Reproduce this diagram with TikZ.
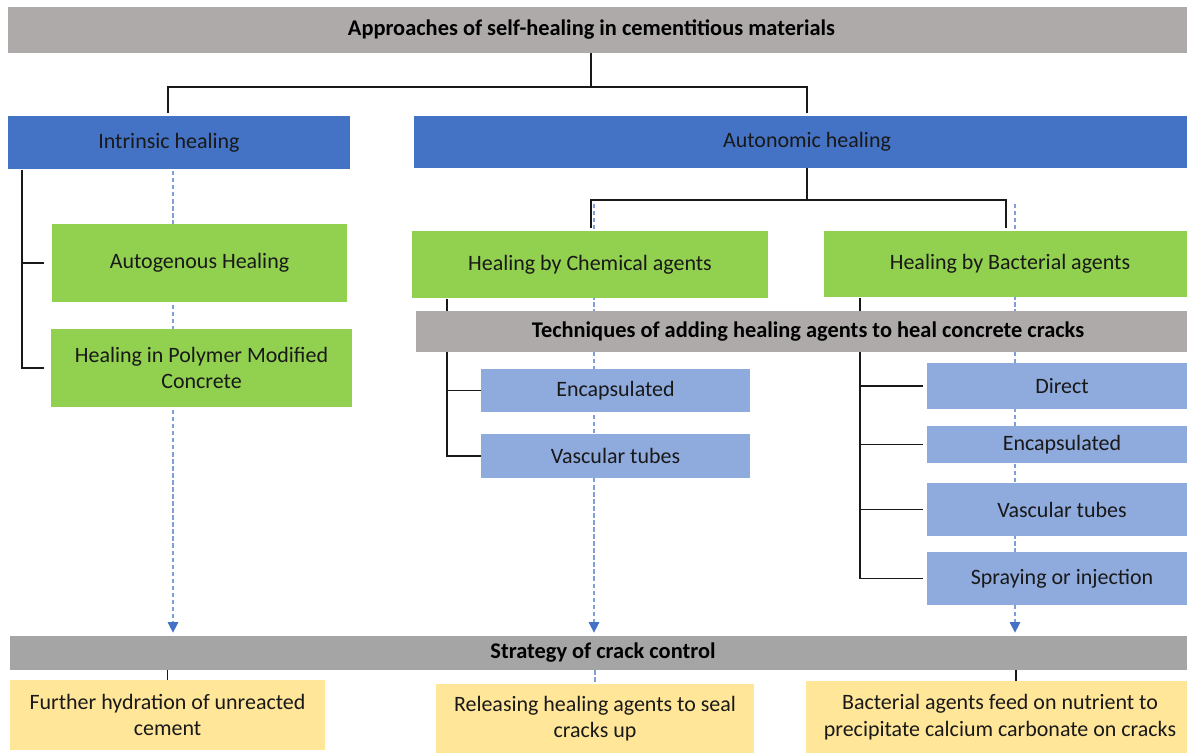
\documentclass[tikz,border=0pt]{standalone}
\usepackage{fontspec}
\setmainfont{Carlito}
\usetikzlibrary{positioning, arrows.meta, backgrounds, calc}

\definecolor{hdrgray}{HTML}{AEAAAA}
\definecolor{stratgray}{HTML}{A5A5A5}
\definecolor{mainblue}{HTML}{4472C4}
\definecolor{subgreen}{HTML}{92D050}
\definecolor{techblue}{HTML}{8FAADC}
\definecolor{resyellow}{HTML}{FFE699}
\definecolor{linkblue}{HTML}{7F9FD8}

\begin{document}
\begin{tikzpicture}[x=0.02cm, y=-0.02cm,
    box/.style={inner sep=2pt, align=center, text=black!90, font=\fontsize{12.5}{15}\selectfont},
    hdr/.style={box, font=\bfseries\fontsize{12.75}{15}\selectfont, text=black},
    conn/.style={draw=black!90, line width=1pt},
    dashlink/.style={draw=linkblue, line width=0.6pt, dash pattern=on 2.5pt off 1.5pt},
    tipblue/.style={-{Triangle[width=6pt, length=6pt, color=mainblue]}, shorten >=0.06cm}
]
\useasboundingbox (0,0) rectangle (1187,753);

% headers
\node[hdr, fill=hdrgray, minimum width=23.58cm, minimum height=0.92cm] (title) at (597.5,30) {Approaches of self-healing in cementitious materials\hspace{0.24cm}};
\node[box, fill=mainblue, minimum width=6.84cm, minimum height=1.06cm] (intr) at (179,142.5) {Intrinsic healing\hspace{0.4cm}};
\node[box, fill=mainblue, minimum width=15.72cm, minimum height=1.04cm] (auton) at (807,142) {Autonomic healing};

% intrinsic branch
\node[box, fill=subgreen, minimum width=5.9cm, minimum height=1.56cm] (autog) at (199.5,263) {Autogenous Healing};
\node[box, fill=subgreen, minimum width=6.02cm, minimum height=1.56cm] (polym) at (201.5,368) {Healing in Polymer Modified\\Concrete};

% autonomic branch
\node[box, fill=subgreen, minimum width=7.12cm, minimum height=1.34cm] (chem) at (590,264.5) {Healing by Chemical agents};
\node[box, fill=subgreen, minimum width=7.44cm, minimum height=1.32cm] (bact) at (1010,264) {Healing by Bacterial agents};
\node[hdr, fill=hdrgray, minimum width=15.68cm, minimum height=0.82cm] (tech) at (808,331.5) {Techniques of adding healing agents to heal concrete cracks};

\node[box, fill=techblue, minimum width=5.38cm, minimum height=0.86cm] (cenc) at (615.5,390.5) {Encapsulated};
\node[box, fill=techblue, minimum width=5.38cm, minimum height=0.88cm] (cvasc) at (615.5,456) {Vascular tubes};

\node[box, fill=techblue, minimum width=5.4cm, minimum height=0.92cm] (bdir) at (1062,386) {Direct};
\node[box, fill=techblue, minimum width=5.4cm, minimum height=0.74cm] (benc) at (1062,444.5) {Encapsulated};
\node[box, fill=techblue, minimum width=5.4cm, minimum height=1.06cm] (bvasc) at (1062,509.5) {Vascular tubes};
\node[box, fill=techblue, minimum width=5.4cm, minimum height=1.06cm] (bspray) at (1062,578.5) {Spraying or injection};

% strategy and results
\node[hdr, fill=stratgray, minimum width=23.72cm, minimum height=0.68cm] (strat) at (603,653) {Strategy of crack control};
\node[box, fill=resyellow, minimum width=6.3cm, minimum height=1.4cm] (res1) at (167.5,715) {Further hydration of unreacted\\cement};
\node[box, fill=resyellow, minimum width=6.36cm, minimum height=1.38cm] (res2) at (595,718.5) {Releasing healing agents to seal\\cracks up};
\node[box, fill=resyellow, minimum width=7.76cm, minimum height=1.44cm] (res3) at (1000,717) {Bacterial agents feed on nutrient to\\precipitate calcium carbonate on cracks};

\begin{pgfonlayer}{background}
    % dashed flow to strategy
    \coordinate (d1) at (173,171);
    \coordinate (d2) at (594,204);
    \coordinate (d3) at (1015,204);
    \draw[dashlink, tipblue] (d1) -- (d1 |- strat.north);
    \draw[dashlink, tipblue] (d2) -- (d2 |- strat.north);
    \draw[dashlink, tipblue] (d3) -- (d3 |- strat.north);

    % tree connectors
    \coordinate (tj) at (591,87);
    \draw[conn] (title.south -| tj) -- (tj);
    \draw[conn] (tj) -| ([xshift=-0.22cm, yshift=0.06cm]intr.north);
    \draw[conn] (tj) -| ([yshift=0.06cm]auton.north);

    \coordinate (ib) at (22,170);
    \draw[conn] (ib) |- ([xshift=-0.16cm]autog.west);
    \draw[conn] (ib) |- ([xshift=-0.14cm]polym.west);

    \coordinate (aj) at (807,200);
    \draw[conn] (auton.south) -- (aj);
    \draw[conn] (aj) -| ([xshift=0.02cm, yshift=0.06cm]chem.north);
    \draw[conn] (aj) -| ([xshift=-0.08cm, yshift=0.06cm]bact.north);

    \coordinate (cb) at (447,299);
    \draw[conn] (cb) |- (cenc.west);
    \draw[conn] (cb) |- (cvasc.west);

    \coordinate (bb) at (860,298);
    \draw[conn] (bb) |- ([xshift=-0.08cm]bdir.west);
    \draw[conn] (bb) |- ([xshift=-0.08cm]benc.west);
    \draw[conn] (bb) |- ([xshift=-0.08cm]bvasc.west);
    \draw[conn] (bb) |- ([xshift=-0.08cm]bspray.west);

    % results
    \draw[conn] (strat.south -| res1.north) -- (res1.north);
    \draw[dashlink, line width=0.9pt] (strat.south -| res2.north) -- (res2.north);
    \draw[conn] ([xshift=0.32cm]strat.south -| res3.north) -- ([xshift=0.32cm]res3.north);
\end{pgfonlayer}
\end{tikzpicture}
\end{document}
